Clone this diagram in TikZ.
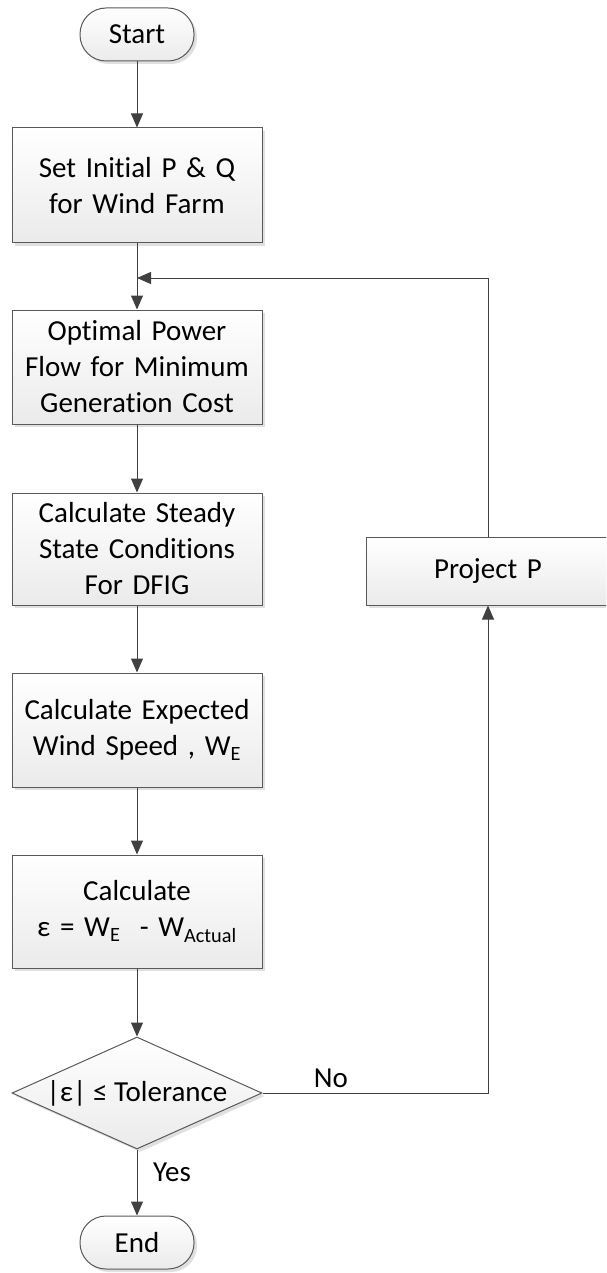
\documentclass[tikz,border=0pt]{standalone}
\usepackage{fontspec}
\setmainfont[Ligatures=NoCommon]{Carlito}
\usetikzlibrary{shapes.geometric,arrows.meta,shadows}
\definecolor{edgec}{HTML}{595959}
\definecolor{arrc}{HTML}{404040}
\begin{document}
\begin{tikzpicture}[x=1pt,y=-1pt,
  shade/.style={top color=white, bottom color=black!8,
    drop shadow={shadow xshift=3pt,shadow yshift=-3pt,fill=black!12,opacity=1}},
  box/.style={draw=edgec, line width=1pt, shade, minimum width=250pt,
    text width=246pt, align=center, inner sep=0pt,
    font=\fontsize{29}{36}\selectfont},
  term/.style={draw=edgec, line width=1pt, shade, rounded corners=26pt,
    minimum width=114pt, minimum height=53pt, inner sep=0pt,
    font=\fontsize{29}{36}\selectfont},
  dia/.style={draw=edgec, line width=1pt, shade, diamond, aspect=2.23,
    minimum width=250pt, minimum height=112pt, inner sep=0pt,
    font=\fontsize{29}{36}\selectfont},
  lbl/.style={inner sep=0pt, font=\fontsize{29}{36}\selectfont},
  arrow/.style={draw=arrc, line width=1pt, -{Triangle[length=14pt,width=12pt]}}]
\useasboundingbox (0,0) rectangle (606,1273);
\clip (0,0) rectangle (606,1273);

\node[term] (start) at (137,34.5) {Start};
\node[box, minimum height=115pt] (set) at (137,185.5) {Set Initial P \& Q\\for Wind Farm};
\node[box, minimum height=114pt] (opf) at (137,367) {Optimal Power\\Flow for Minimum\\Generation Cost};
\node[box, minimum height=112pt] (steady) at (137,549) {Calculate Steady\\State Conditions\\For DFIG};
\node[box, minimum height=114pt] (expw) at (137,730) {Calculate Expected\\Wind Speed , W\textsubscript{E}};
\node[box, minimum height=113pt] (eps) at (137,911.5) {Calculate\\ε = W\textsubscript{E}\ \ - W\textsubscript{Actual}};
\node[dia] (dec) at (137,1093) {|ε| ≤ Tolerance};
\node[term] (endn) at (137,1242.5) {End};
\node[box, minimum width=244pt, text width=236pt, minimum height=68pt] (proj) at (488,571) {Project P};

\coordinate (j) at (137,278);

\draw[arrow] (start) -- (set);
\draw[arrow] (set) -- (opf);
\draw[arrow] (proj.north) |- (j);
\draw[arrow] (opf) -- (steady);
\draw[arrow] (steady) -- (expw);
\draw[arrow] (expw) -- (eps);
\draw[arrow] (eps) -- (dec);
\draw[arrow] (dec) -- (endn);
\draw[arrow] (dec.east) -| (proj.south);

\node[lbl] (no) at (331,1078) {No};
\node[lbl] (yes) at (172,1172) {Yes};
\end{tikzpicture}
\end{document}
